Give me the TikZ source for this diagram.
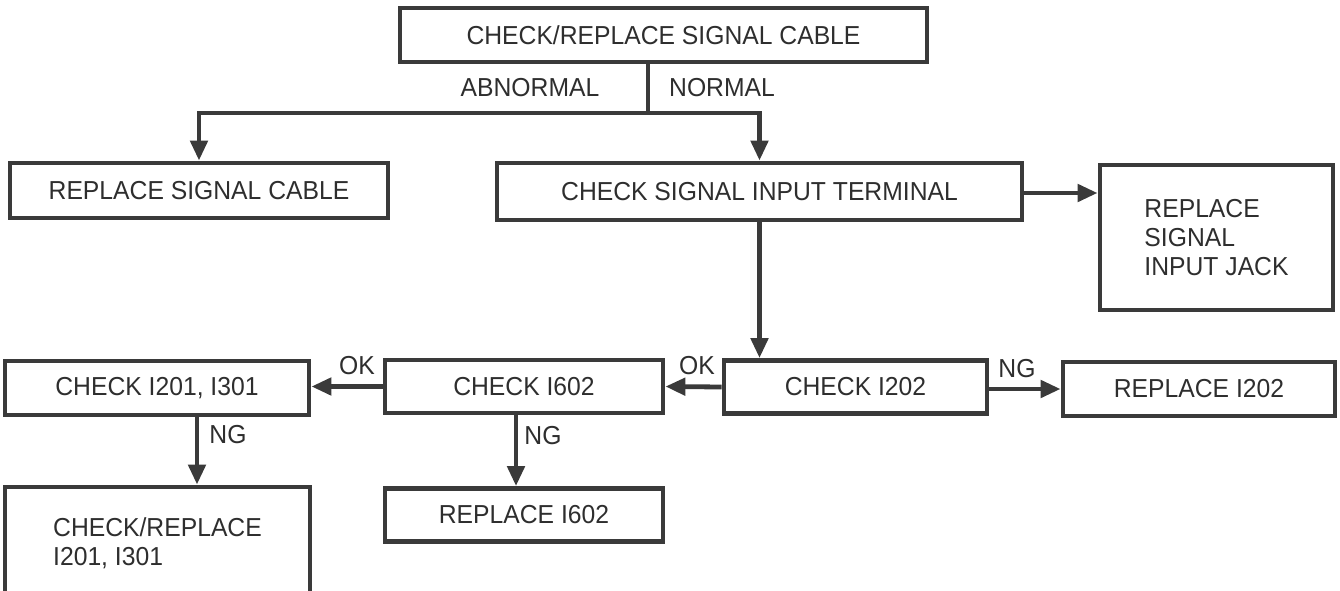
\documentclass[tikz,border=0pt]{standalone}
\usepackage{fontspec}
\setmainfont[FakeStretch=0.95]{Liberation Sans}
\usetikzlibrary{arrows.meta}
\definecolor{ink}{HTML}{3A3A3A}
\definecolor{txt}{HTML}{2E2E2E}
\begin{document}
\begin{tikzpicture}[x=1pt,y=-1pt,
  box/.style={draw=ink,line width=4.8pt,rectangle,inner sep=0pt,text=txt,
    font=\fontsize{26}{29}\selectfont},
  lbl/.style={text=txt,inner sep=0pt,font=\fontsize{26}{29}\selectfont},
  arr/.style={draw=ink,line width=4.8pt,-{Triangle[length=20pt,width=17pt]}},
  ln/.style={draw=ink,line width=4.8pt}]
\useasboundingbox (0,0) rectangle (1340,591);
\fill[white] (0,0) rectangle (1340,591);
% boxes
\node[box,minimum width=527,minimum height=54] (top) at (663.5,35) {CHECK/REPLACE SIGNAL CABLE};
\node[box,minimum width=378,minimum height=55] (rsc) at (199,190.5) {REPLACE SIGNAL CABLE};
\node[box,minimum width=525,minimum height=57] (cit) at (759.5,191.5) {CHECK SIGNAL INPUT TERMINAL};
\node[box,minimum width=233,minimum height=145,align=left] (jack) at (1216.5,237.5) {REPLACE\\SIGNAL\\INPUT JACK};
\node[box,minimum width=263,minimum height=53] (i202) at (855.5,387) {CHECK I202};
\node[box,minimum width=272,minimum height=54] (r202) at (1199,389) {REPLACE I202};
\node[box,minimum width=278,minimum height=53] (i602) at (524,386.5) {CHECK I602};
\node[box,minimum width=304,minimum height=54] (i201) at (157,388) {CHECK I201, I301};
\node[box,minimum width=305,minimum height=112,align=left] (cr201) at (157.5,543) {CHECK/REPLACE\\I201, I301};
\node[box,minimum width=278,minimum height=53] (r602) at (524,515) {REPLACE I602};
% helper coordinates
\coordinate (s) at (648,113);
\coordinate (c1) at (197,450);
\coordinate (c2) at (516,450);
% connectors
\draw[ln] (top.south -| s) -- (s);
\draw[arr] (s) -| (rsc.north);
\draw[arr] (s) -| (cit.north);
\draw[arr] (cit.east |- 0,193) -- (jack.west |- 0,193);
\draw[arr] (cit.south) -- (cit.south |- i202.north);
\draw[arr] (i202.west) -- (i602.east);
\draw[arr] (i202.east |- 0,389) -- (r202.west |- 0,389);
\draw[arr] (i602.west) -- (i201.east |- i602.west);
\draw[arr] (i201.south -| c1) -- (cr201.north -| c1);
\draw[arr] (i602.south -| c2) -- (r602.north -| c2);
% labels
\node[lbl] (labn) at (530,88) {ABNORMAL};
\node[lbl] (lnor) at (722,88) {NORMAL};
\node[lbl] (lok1) at (697,366) {OK};
\node[lbl] (lng1) at (1017,369) {NG};
\node[lbl] (lok2) at (357,366) {OK};
\node[lbl] (lng2) at (228,435) {NG};
\node[lbl] (lng3) at (543,436) {NG};
\end{tikzpicture}
\end{document}
